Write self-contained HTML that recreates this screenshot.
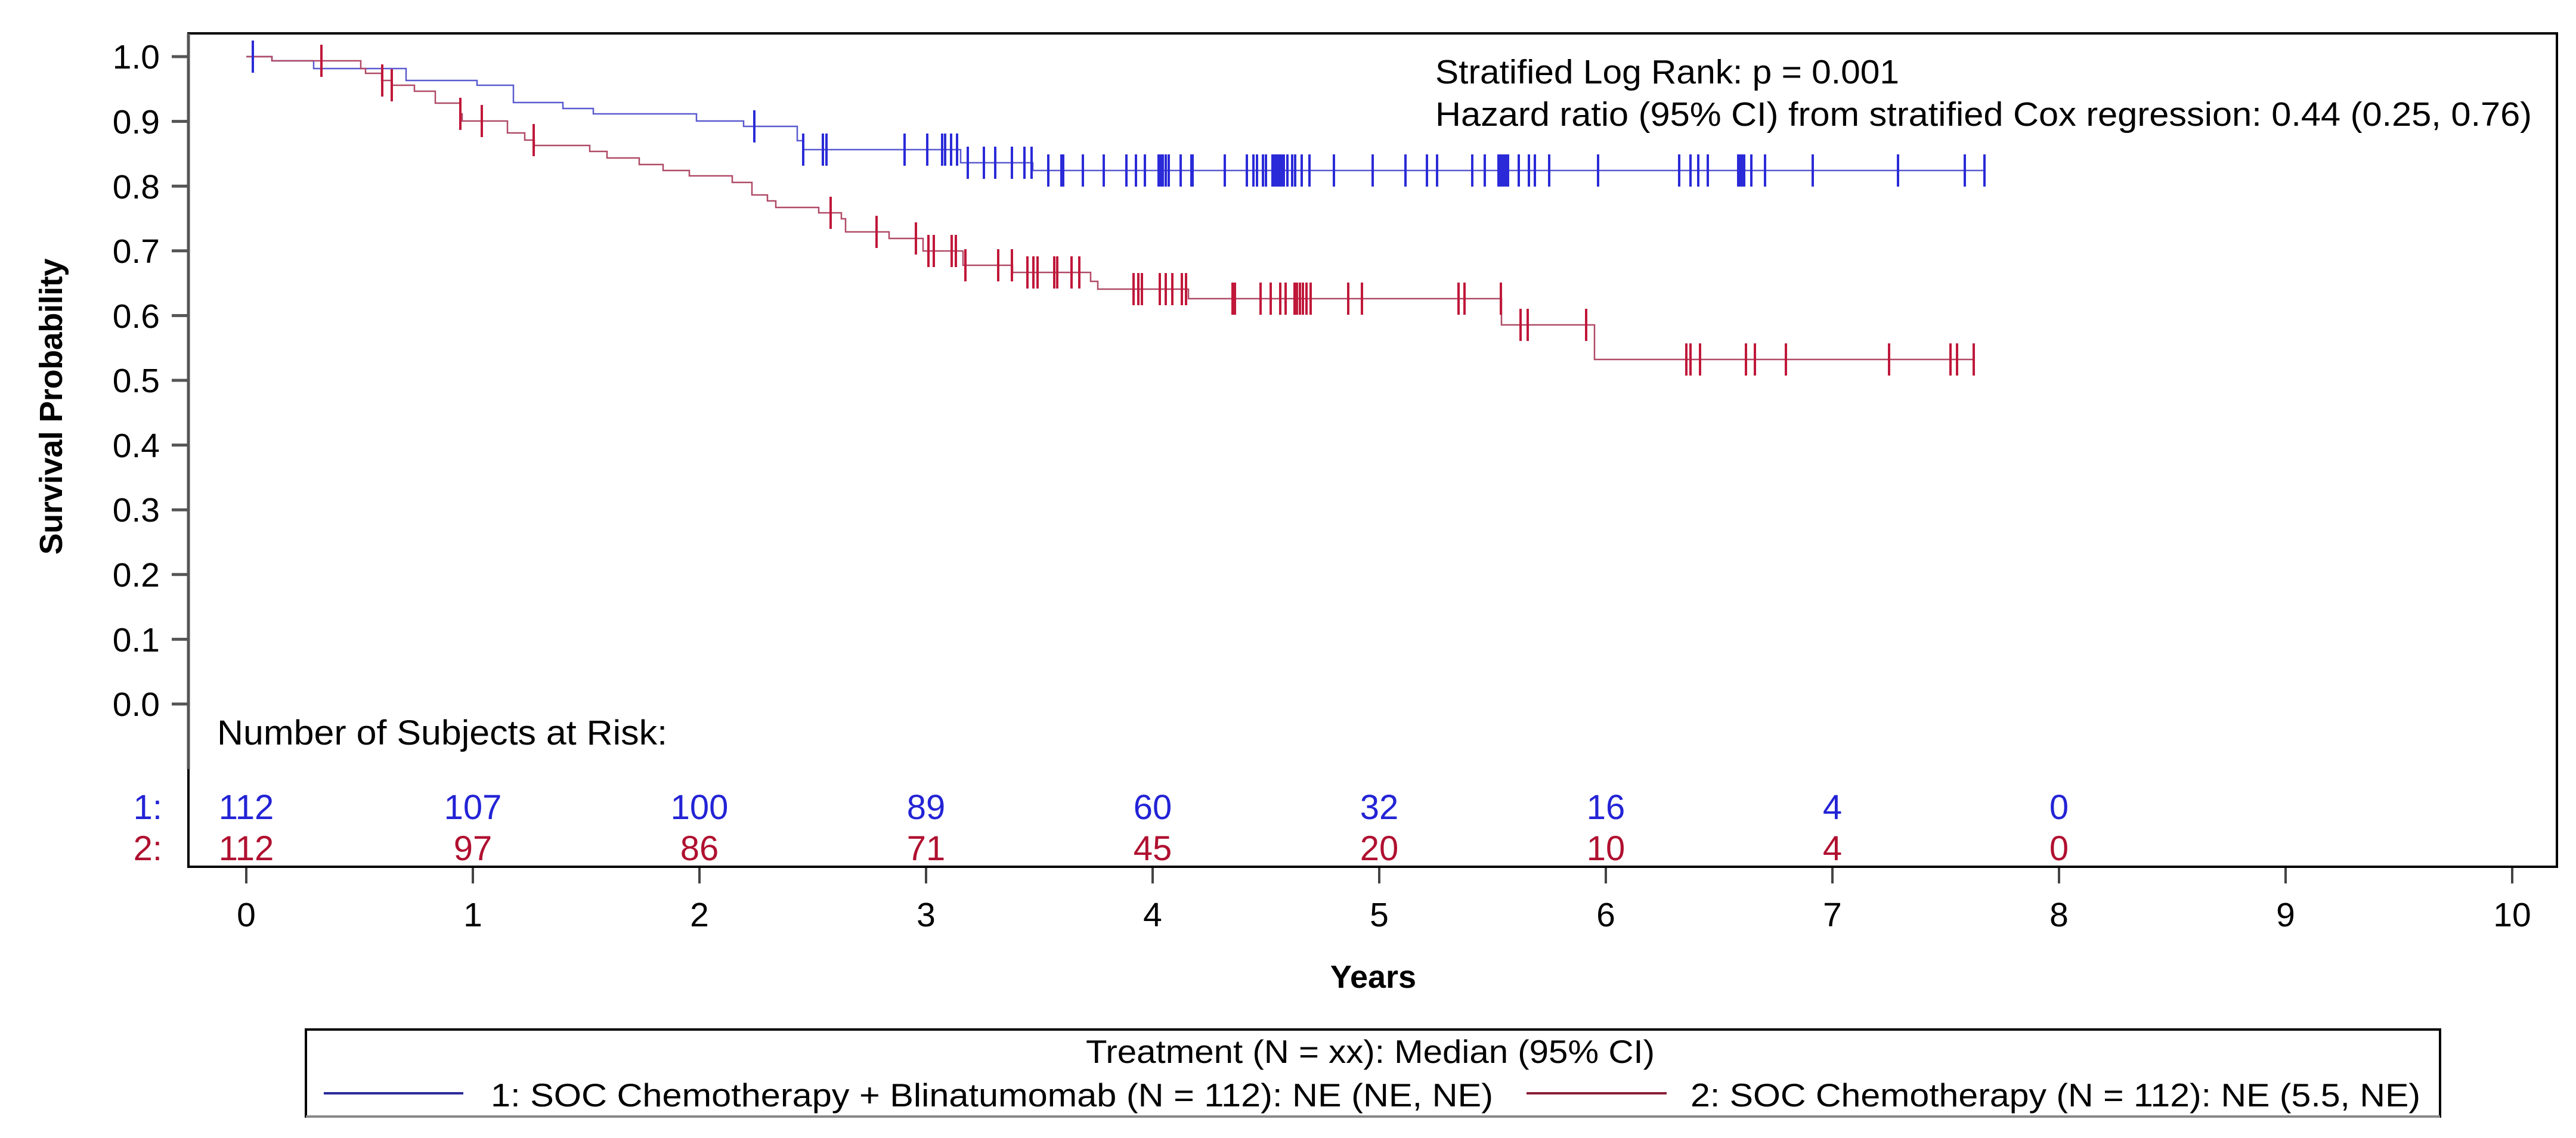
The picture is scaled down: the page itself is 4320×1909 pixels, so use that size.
<!DOCTYPE html>
<html><head><meta charset="utf-8"><style>
html,body{margin:0;padding:0;background:#fff}
svg{display:block}
text{font-family:"Liberation Sans",Arial,sans-serif}
</style></head><body>
<svg id="s" width="4320" height="1909" viewBox="0 0 4320 1909" xmlns="http://www.w3.org/2000/svg">
<rect width="4320" height="1909" fill="#fff"/>
<rect x="316" y="56" width="3972" height="1398" fill="none" stroke="#000" stroke-width="4"/>
<line x1="316" y1="56" x2="316" y2="1290" stroke="#555" stroke-width="5"/>
<g stroke="#555" stroke-width="5">
<line x1="288" y1="95" x2="316" y2="95"/><line x1="288" y1="203.6" x2="316" y2="203.6"/>
<line x1="288" y1="312.2" x2="316" y2="312.2"/><line x1="288" y1="420.8" x2="316" y2="420.8"/>
<line x1="288" y1="529.4" x2="316" y2="529.4"/><line x1="288" y1="638" x2="316" y2="638"/>
<line x1="288" y1="746.6" x2="316" y2="746.6"/><line x1="288" y1="855.2" x2="316" y2="855.2"/>
<line x1="288" y1="963.8" x2="316" y2="963.8"/><line x1="288" y1="1072.4" x2="316" y2="1072.4"/>
<line x1="288" y1="1181" x2="316" y2="1181"/>
</g>
<g font-size="57" text-anchor="end" fill="#000">
<text x="268" y="115">1.0</text><text x="268" y="224">0.9</text><text x="268" y="333">0.8</text>
<text x="268" y="441">0.7</text><text x="268" y="550">0.6</text><text x="268" y="658">0.5</text>
<text x="268" y="767">0.4</text><text x="268" y="875">0.3</text><text x="268" y="984">0.2</text>
<text x="268" y="1093">0.1</text><text x="268" y="1201">0.0</text>
</g>
<text transform="translate(104,682) rotate(-90)" font-size="54" font-weight="bold" text-anchor="middle" textLength="497">Survival Probability</text>
<g id="xt" stroke="#444" stroke-width="4"></g>
<g id="xl" font-size="57" text-anchor="middle" fill="#000"></g>
<text x="2303" y="1657" font-size="54" font-weight="bold" text-anchor="middle">Years</text>
<text x="2407" y="140" font-size="57" textLength="778" lengthAdjust="spacingAndGlyphs">Stratified Log Rank: p = 0.001</text>
<text x="2407" y="211" font-size="57" textLength="1839" lengthAdjust="spacingAndGlyphs">Hazard ratio (95% CI) from stratified Cox regression: 0.44 (0.25, 0.76)</text>
<path id="pb" fill="none" stroke="#5a5ad0" stroke-width="2.5"/>
<path id="pr" fill="none" stroke="#b04a66" stroke-width="2.5"/>
<g id="cb" stroke="#2a2ad8" stroke-width="4"></g>
<g id="cr" stroke="#c0183a" stroke-width="4"></g>
<text x="364" y="1249" font-size="58" textLength="755" lengthAdjust="spacingAndGlyphs">Number of Subjects at Risk:</text>
<text x="272" y="1374" font-size="58" text-anchor="end" fill="#2323d6">1:</text>
<text x="272" y="1443" font-size="58" text-anchor="end" fill="#b01030">2:</text>
<g id="rk" font-size="58" text-anchor="middle"></g>
<rect x="513" y="1727" width="3579" height="146" fill="none" stroke="#000" stroke-width="4"/>
<line x1="513" y1="1873" x2="4092" y2="1873" stroke="#888" stroke-width="4"/>
<text x="2298" y="1783" font-size="55" text-anchor="middle" textLength="954" lengthAdjust="spacingAndGlyphs">Treatment (N = xx): Median (95% CI)</text>
<line x1="543" y1="1834" x2="777" y2="1834" stroke="#2a2a9a" stroke-width="4"/>
<text x="823" y="1856" font-size="55" textLength="1681" lengthAdjust="spacingAndGlyphs">1: SOC Chemotherapy + Blinatumomab (N = 112): NE (NE, NE)</text>
<line x1="2560" y1="1834" x2="2795" y2="1834" stroke="#8a2038" stroke-width="4"/>
<text x="2835" y="1856" font-size="55" textLength="1224" lengthAdjust="spacingAndGlyphs">2: SOC Chemotherapy (N = 112): NE (5.5, NE)</text>
</svg>
<script>
var NS="http://www.w3.org/2000/svg";
function X(t){return 413+380*t;}
var xt=document.getElementById('xt'),xl=document.getElementById('xl');
for(var i=0;i<=10;i++){var l=document.createElementNS(NS,'line');l.setAttribute('x1',X(i));l.setAttribute('x2',X(i));l.setAttribute('y1',1456);l.setAttribute('y2',1482);xt.appendChild(l);
var t=document.createElementNS(NS,'text');t.setAttribute('x',X(i));t.setAttribute('y',1554);t.textContent=i;xl.appendChild(t);}
var r1=[112,107,100,89,60,32,16,4,0],r2=[112,97,86,71,45,20,10,4,0],rk=document.getElementById('rk');
for(var i=0;i<9;i++){[[r1,1374,'#2323d6'],[r2,1443,'#b01030']].forEach(function(a){var t=document.createElementNS(NS,'text');t.setAttribute('x',X(i));t.setAttribute('y',a[1]);t.setAttribute('fill',a[2]);t.textContent=a[0][i];rk.appendChild(t);});}
var B=[[413,95],[456,102],[526,115],[681,135],[800,143],[861,172],[944,182],[995,191],[1168,203],[1247,212],[1337,236],[1347,251],[1611,273],[1732,286]],BE=3330;
var R=[[413,95],[456,102],[605,115],[613,123],[640,135],[657,143],[695,153],[730,173],[772,191],[775,203],[851,223],[880,235],[896,244],[989,254],[1018,265],[1072,276],[1112,286],[1156,295],[1228,306],[1261,327],[1287,337],[1301,348],[1373,357],[1411,367],[1418,389],[1491,400],[1548,421],[1615,445],[1698,457],[1829,472],[1841,485],[1993,501],[2518,545],[2674,603]],RE=3310;
function path(S,E){var d='M'+S[0][0]+','+S[0][1];for(var i=1;i<S.length;i++){d+=' H'+S[i][0]+' V'+S[i][1];}return d+' H'+E;}
function yat(S,x){var y=S[0][1];for(var i=0;i<S.length;i++){if(S[i][0]<=x)y=S[i][1];}return y;}
document.getElementById('pb').setAttribute('d',path(B,BE));
document.getElementById('pr').setAttribute('d',path(R,RE));
var CB=[424,1265,1347,1380,1386,1517,1555,1580,1585,1595,1605,1623,1650,1669,1697,1718,1730,1758,1780,1783,1816,1851,1889,1905,1920,1943,1946,1950,1955,1960,1980,1998,2000,2054,2091,2102,2108,2118,2123,2134,2137,2140,2143,2147,2150,2153,2159,2167,2172,2183,2196,2237,2302,2357,2393,2410,2469,2490,2513,2517,2520,2523,2526,2529,2547,2564,2574,2598,2680,2816,2835,2848,2864,2915,2918,2922,2925,2937,2960,3040,3183,3295,3328];
var CR=[539,641,657,772,808,895,1393,1470,1536,1557,1566,1596,1603,1619,1674,1697,1723,1733,1740,1768,1773,1797,1810,1901,1909,1915,1945,1955,1966,1982,1989,2067,2071,2114,2131,2147,2156,2171,2175,2180,2185,2191,2198,2261,2284,2446,2456,2517,2550,2562,2660,2828,2835,2851,2928,2943,2995,3168,3271,3282,3310];
function ticks(id,S,C){var g=document.getElementById(id);C.forEach(function(x){var y=yat(S,x);var l=document.createElementNS(NS,'line');l.setAttribute('x1',x);l.setAttribute('x2',x);l.setAttribute('y1',y-27);l.setAttribute('y2',y+27);g.appendChild(l);});}
ticks('cb',B,CB);ticks('cr',R,CR);
</script>
</body></html>
